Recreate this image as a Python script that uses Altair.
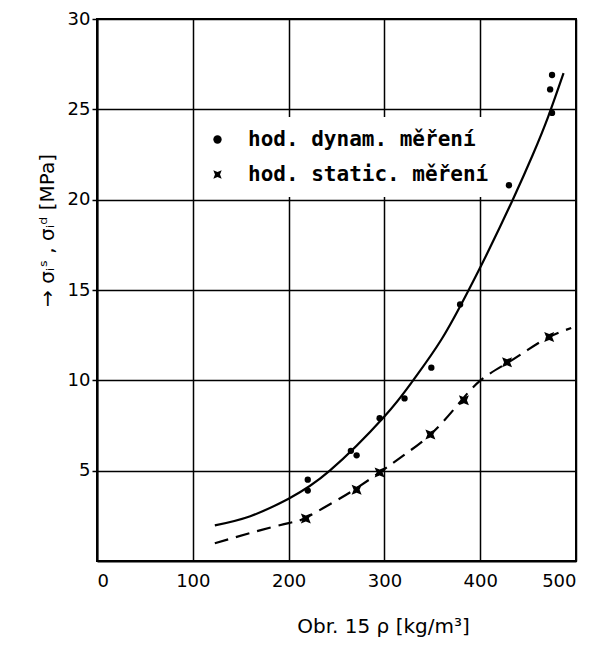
import altair as alt
import pandas as pd

# measured points
dyn_x = [220, 220, 265, 271, 295, 321, 349, 379, 430, 473, 475, 475]
dyn_y = [4.5, 3.9, 6.1, 5.85, 7.9, 9.0, 10.7, 14.2, 20.8, 26.1, 26.9, 24.8]
stat_x = [218, 271, 295, 348, 383, 428, 472]
stat_y = [2.35, 3.95, 4.9, 7.0, 8.9, 11.0, 12.4]

# fitted curves
dyn_curve_x = [123, 160, 200, 243, 300, 330, 360, 388, 408, 434, 455, 471, 487]
dyn_curve_y = [1.97, 2.48, 3.45, 5.0, 8.0, 10.0, 12.3, 15.0, 17.1, 20.0, 22.5, 24.6, 27.0]
stat_curve_x = [123, 160, 200, 218, 250, 270, 295, 320, 348, 375, 400, 428, 450, 472, 495]
stat_curve_y = [0.98, 1.55, 2.1, 2.4, 3.35, 4.0, 4.9, 5.85, 7.0, 8.55, 9.98, 10.95, 11.7, 12.4, 12.9]

x_ticks = [0, 100, 200, 300, 400, 500]
y_ticks = [5, 10, 15, 20, 25, 30]

lab_dyn = "hod. dynam. měření"
lab_stat = "hod. static. měření"

dyn_df = pd.DataFrame({"x": dyn_x, "y": dyn_y, "s": lab_dyn})
stat_df = pd.DataFrame({"x": stat_x, "y": stat_y, "s": lab_stat})
dc = pd.DataFrame({"x": dyn_curve_x, "y": dyn_curve_y})
sc = pd.DataFrame({"x": stat_curve_x, "y": stat_curve_y})

bowtie = "M-1,-1L0,-0.6L1,-1L0.6,0L1,1L0,0.6L-1,1L-0.6,0Z"

xenc = alt.X("x:Q", scale=alt.Scale(domain=[0, 500], nice=False),
             axis=alt.Axis(values=x_ticks, title="Obr. 15  ρ [kg/m³]", tickSize=0,
                           labelPadding=11, titleX=286, titleY=71,
                           titleBaseline="alphabetic", titleAlign="center",
                           titleFontSize=20, titleFontWeight="normal"))
yenc = alt.Y("y:Q", scale=alt.Scale(domain=[0, 30], nice=False),
             axis=alt.Axis(values=y_ticks, title="→  σᵢˢ , σᵢᵈ [MPa]", tickSize=5,
                           labelPadding=2, titleAngle=270, titleX=-50, titleY=211,
                           titleAlign="center", titleBaseline="middle",
                           titleFontSize=20, titleFontWeight="normal"))

shape_scale = alt.Scale(domain=[lab_dyn, lab_stat], range=["circle", bowtie])
legend = alt.Legend(title=None, orient="none", legendX=98, legendY=98,
                    fillColor="white", padding=12, rowPadding=13,
                    labelFont="DejaVu Sans Mono", labelFontSize=21,
                    labelFontWeight="bold", labelColor="black", labelLimit=0,
                    labelOffset=20, symbolSize=70, symbolFillColor="black",
                    symbolStrokeColor="black")

solid = alt.Chart(dc).mark_line(color="black", strokeWidth=2.2, interpolate="natural").encode(x=xenc, y=yenc)
dashed = alt.Chart(sc).mark_line(color="black", strokeWidth=2.2, strokeDash=[14, 8],
                                 interpolate="natural").encode(x=xenc, y=yenc)
pts_dyn = alt.Chart(dyn_df).mark_point(filled=True, color="black", size=40, opacity=1).encode(
    x=xenc, y=yenc, shape=alt.Shape("s:N", scale=shape_scale, legend=legend))
pts_stat = alt.Chart(stat_df).mark_point(filled=True, color="black", size=100, opacity=1).encode(
    x=xenc, y=yenc, shape=alt.Shape("s:N", scale=shape_scale, legend=legend))

chart = alt.layer(solid, dashed, pts_dyn, pts_stat).properties(
    width=479, height=542,
    autosize=alt.AutoSizeParams(type="none"),
    padding={"left": 89, "top": 11, "right": 12, "bottom": 76},
    background="white",
).configure_view(stroke="black", strokeWidth=2).configure_axis(
    grid=True, gridColor="black", gridWidth=1.5, gridOpacity=1,
    domainColor="black", domainWidth=2, tickColor="black", tickWidth=1.5,
    labelFont="DejaVu Sans", labelFontSize=18, labelColor="black",
    titleFont="DejaVu Sans", titleColor="black",
)

chart.save("out.html", embed_options={"renderer": "svg", "actions": False})
